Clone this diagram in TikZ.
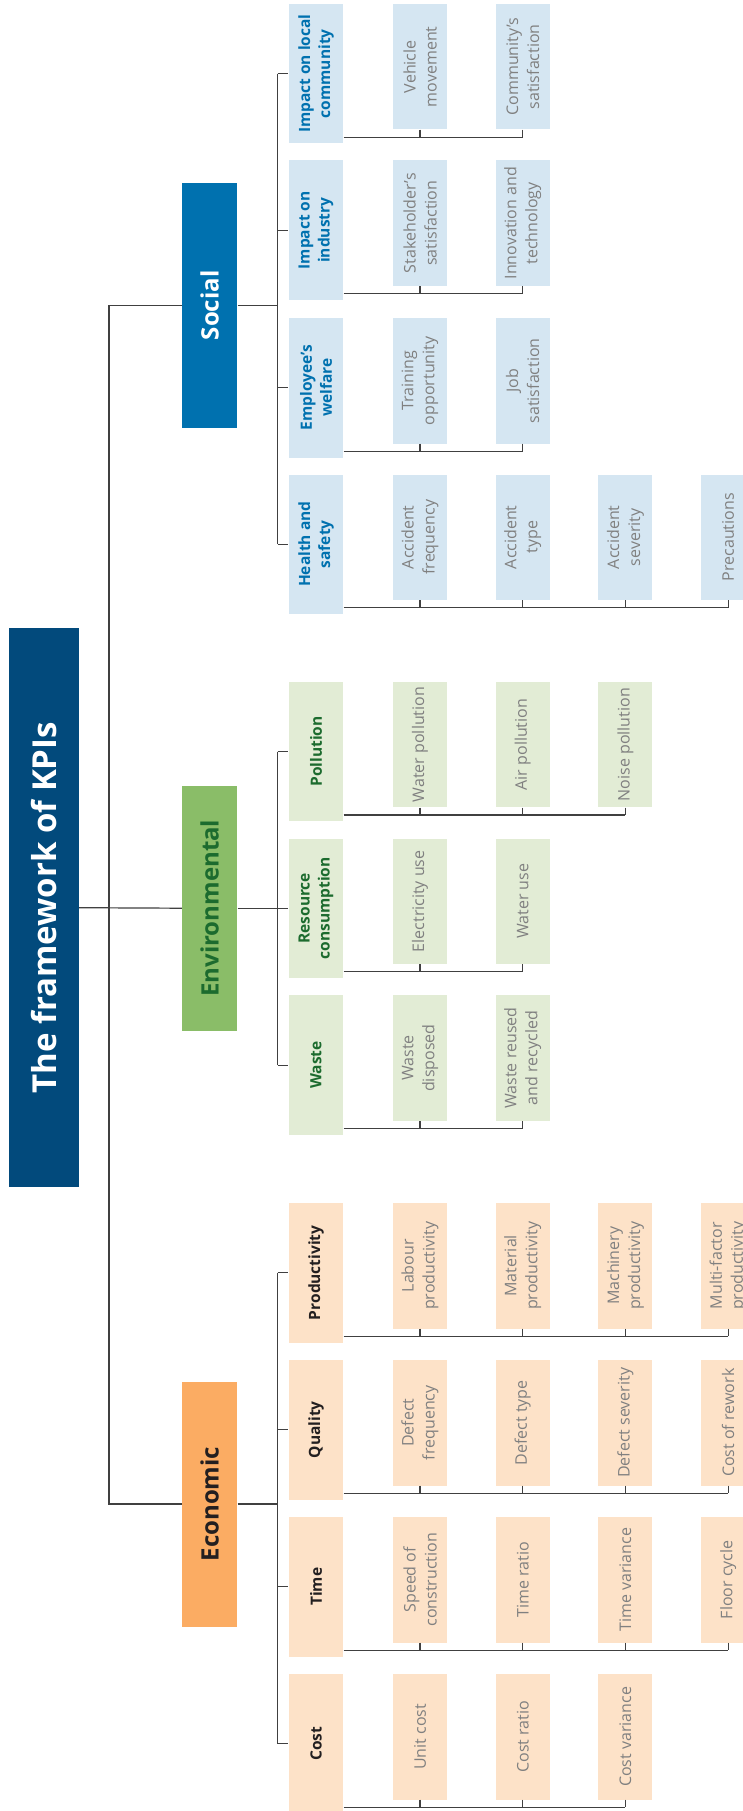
\documentclass[tikz,border=0pt]{standalone}
\usepackage{fontspec}
\setmainfont{Open Sans}
\usetikzlibrary{calc}

\definecolor{linec}{HTML}{404040}
\definecolor{titlec}{HTML}{024A7C}
\definecolor{socc}{HTML}{0071AF}
\definecolor{soclight}{HTML}{D5E6F2}
\definecolor{envc}{HTML}{8ABD68}
\definecolor{envlight}{HTML}{E2ECD5}
\definecolor{envtext}{HTML}{1C6B2E}
\definecolor{ecoc}{HTML}{FBAC63}
\definecolor{ecolight}{HTML}{FDE2C8}
\definecolor{ecotext}{HTML}{231F20}
\definecolor{leaftext}{HTML}{808080}

\tikzset{
  conn/.style={draw=linec, line width=1.2pt},
  titlebox/.style={rotate=90, fill=titlec, text=white, inner sep=0pt,
    minimum width=559pt, minimum height=70pt,
    font=\bfseries\fontsize{33}{38}\selectfont},
  catbox/.style={rotate=90, inner sep=0pt, minimum width=245pt, minimum height=55.4pt,
    font=\bfseries\fontsize{24}{28}\selectfont},
  groupbox/.style={rotate=90, inner sep=0pt, align=center,
    minimum width=139.5pt, minimum height=54.8pt,
    font=\bfseries\fontsize{15.5}{20}\selectfont},
  leafbox/.style={rotate=90, inner sep=0pt, align=center, text=leaftext,
    minimum width=125.5pt, minimum height=54pt,
    font=\fontsize{16}{21}\selectfont},
  socgroup/.style={groupbox, fill=soclight, text=socc},
  envgroup/.style={groupbox, fill=envlight, text=envtext},
  ecogroup/.style={groupbox, fill=ecolight, text=ecotext},
  socleaf/.style={leafbox, fill=soclight},
  envleaf/.style={leafbox, fill=envlight},
  ecoleaf/.style={leafbox, fill=ecolight},
}

% #1 node name, #2 top edge, #3 family (soc/env/eco), #4 group label, #5 indicator list
\newcommand\kpigroup[5]{%
  \node[#3group] (#1) at (316,#2+69.75) {#4};
  \foreach \t [count=\i] in {#5} {
    \node[#3leaf] (#1-\i) at ({420+102.7*(\i-1)},#2+62.75) {\t};
    \coordinate (#1-b\i) at ($(#1-\i.west)+(0,7.5)$);
    \draw[conn] (#1-\i.west) -- (#1-b\i);
    \xdef\kpilast{\i}
  }
  \draw[conn] (#1-b1 -| #1.south) -- (#1-b\kpilast);
}

\begin{document}
\begin{tikzpicture}[x=1pt,y=-1pt]
  \clip (0,0) rectangle (743,1811);
  \fill[white] (0,0) rectangle (743,1811);

  \coordinate (spine) at (109,0);
  \coordinate (sub) at (277.7,0);

  % root
  \node[titlebox] (title) at (44,907.7) {The framework of KPIs};

  % pillars
  \node[catbox, fill=socc, text=white] (soc) at (209.7,305.4) {Social};
  \node[catbox, fill=envc, text=envtext] (env) at (209.7,908.2) {Environmental};
  \node[catbox, fill=ecoc, text=ecotext] (eco) at (209.7,1504) {Economic};

  % Social
  \kpigroup{s1}{4}{soc}{Impact on local\\community}{{Vehicle\\movement},{Community’s\\satisfaction}}
  \kpigroup{s2}{160.5}{soc}{Impact on\\industry}{{Stakeholder’s\\satisfaction},{Innovation and\\technology}}
  \kpigroup{s3}{318}{soc}{Employee’s\\welfare}{{Training\\opportunity},{Job\\satisfaction}}
  \kpigroup{s4}{474.5}{soc}{Health and\\safety}{{Accident\\frequency},{Accident\\type},{Accident\\severity},{Precautions}}

  % Environmental
  \kpigroup{v1}{681.8}{env}{Pollution}{{Water pollution},{Air pollution},{Noise pollution}}
  \kpigroup{v2}{838.5}{env}{Resource\\consumption}{{Electricity use},{Water use}}
  \kpigroup{v3}{995.4}{env}{Waste}{{Waste\\disposed},{Waste reused\\and recycled}}

  % Economic
  \kpigroup{e1}{1203}{eco}{Productivity}{{Labour\\productivity},{Material\\productivity},{Machinery\\productivity},{Multi-factor\\productivity}}
  \kpigroup{e2}{1360}{eco}{Quality}{{Defect\\frequency},{Defect type},{Defect severity},{Cost of rework}}
  \kpigroup{e3}{1517}{eco}{Time}{{Speed of\\construction},{Time ratio},{Time variance},{Floor cycle}}
  \kpigroup{e4}{1674}{eco}{Cost}{{Unit cost},{Cost ratio},{Cost variance}}

  % main spine: root to pillars
  \draw[conn] (title.south) -- (env.north);
  \draw[conn] (soc.north) -- (soc.north -| spine) -- (eco.north -| spine) -- (eco.north);

  % pillar to groups
  \foreach \p/\a/\b in {soc/s1/s4, env/v1/v3, eco/e1/e4} {
    \draw[conn] (\p.south) -- (\p.south -| sub);
    \draw[conn] (\a.north -| sub) -- (\b.north -| sub);
  }
  \foreach \g in {s1,s2,s3,s4,v1,v2,v3,e1,e2,e3,e4} {
    \draw[conn] (\g.north -| sub) -- (\g.north);
  }
\end{tikzpicture}
\end{document}
